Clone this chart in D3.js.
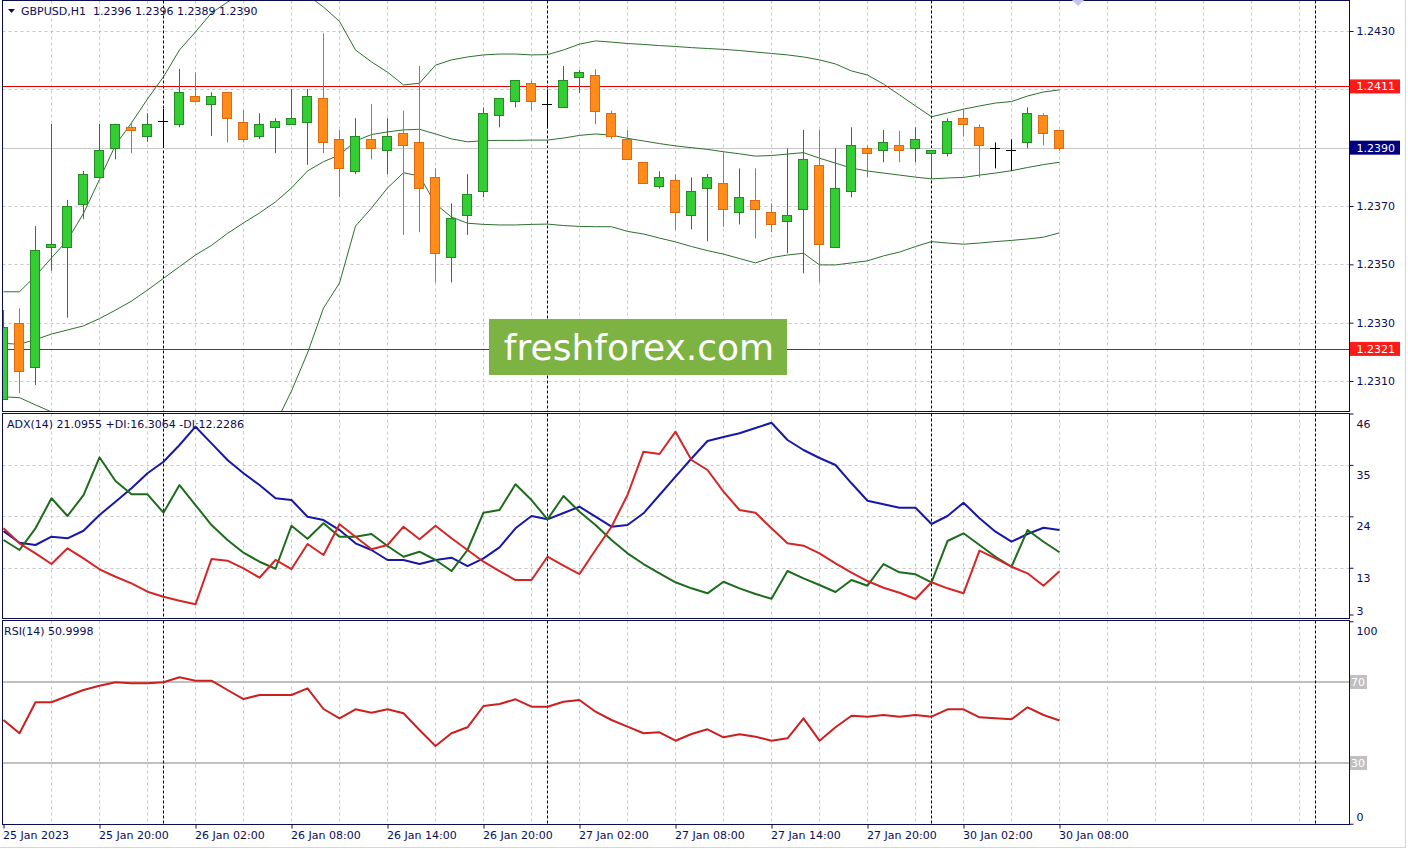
<!DOCTYPE html>
<html><head><meta charset="utf-8">
<script src="https://cdn.jsdelivr.net/npm/d3@7"></script>
<style>
html,body{margin:0;padding:0;background:#fff;}
svg{display:block;font-family:"DejaVu Sans",sans-serif;}
</style></head><body>
<svg id="c" width="1408" height="849"></svg>
<script>
// ---------- DATA ----------
const tickIndex = [0, 6, 12, 18, 24, 30, 36, 42, 48, 54, 60, 66];
const tickLabels = ["25 Jan 2023", "25 Jan 20:00", "26 Jan 02:00", "26 Jan 08:00", "26 Jan 14:00", "26 Jan 20:00",
  "27 Jan 02:00", "27 Jan 08:00", "27 Jan 14:00", "27 Jan 20:00", "30 Jan 02:00", "30 Jan 08:00"];
const separatorIndex = [10, 34, 58, 82];

const open = [
  1.23038, 1.23298, 1.23147, 1.23558, 1.23558, 1.23708, 1.23798, 1.23898, 1.23970, 1.23940,
  1.23990, 1.23980, 1.24078, 1.24049, 1.24090, 1.23989, 1.23940, 1.23970, 1.23980, 1.23989,
  1.24069, 1.23929, 1.23819, 1.23929, 1.23891, 1.23949, 1.23918, 1.23798, 1.23526, 1.23668,
  1.23750, 1.24011, 1.24059, 1.24121, 1.24050, 1.24038, 1.24141, 1.24148, 1.24018, 1.23929,
  1.23850, 1.23768, 1.23788, 1.23668, 1.23761, 1.23778, 1.23678, 1.23720, 1.23678, 1.23648,
  1.23689, 1.23840, 1.23558, 1.23750, 1.23898, 1.23891, 1.23908, 1.23898, 1.23881, 1.23881,
  1.24001, 1.23970, 1.23898, 1.23891, 1.23918, 1.24011, 1.23960];
const high = [
  1.23343, 1.23349, 1.23631, 1.23981, 1.23721, 1.23820, 1.23981, 1.23982, 1.23989, 1.24018,
  1.24033, 1.24170, 1.24158, 1.24090, 1.24091, 1.24029, 1.24018, 1.24001, 1.24101, 1.24101,
  1.24292, 1.23961, 1.24001, 1.24050, 1.24001, 1.24027, 1.24180, 1.23829, 1.23709, 1.23809,
  1.24038, 1.24070, 1.24132, 1.24130, 1.24100, 1.24180, 1.24166, 1.24169, 1.24027, 1.23960,
  1.23850, 1.23819, 1.23809, 1.23798, 1.23810, 1.23884, 1.23829, 1.23829, 1.23709, 1.23898,
  1.23961, 1.23961, 1.23898, 1.23970, 1.23908, 1.23961, 1.23958, 1.23970, 1.23891, 1.24001,
  1.24032, 1.23980, 1.23918, 1.23929, 1.24038, 1.24018, 1.23960];
const low = [
  1.23035, 1.23058, 1.23086, 1.23478, 1.23317, 1.23656, 1.23795, 1.23860, 1.23881, 1.23920,
  1.23906, 1.23970, 1.24055, 1.23940, 1.23918, 1.23918, 1.23929, 1.23881, 1.23979, 1.23841,
  1.23881, 1.23730, 1.23809, 1.23860, 1.23809, 1.23601, 1.23610, 1.23438, 1.23438, 1.23601,
  1.23730, 1.23970, 1.24038, 1.24027, 1.23966, 1.24038, 1.24088, 1.23980, 1.23929, 1.23860,
  1.23778, 1.23759, 1.23618, 1.23620, 1.23579, 1.23629, 1.23637, 1.23589, 1.23610, 1.23538,
  1.23469, 1.23438, 1.23558, 1.23730, 1.23798, 1.23850, 1.23850, 1.23850, 1.23798, 1.23870,
  1.23938, 1.23798, 1.23829, 1.23821, 1.23898, 1.23908, 1.23890];
const close = [
  1.23286, 1.23135, 1.23548, 1.23569, 1.23700, 1.23810, 1.23892, 1.23980, 1.23960, 1.23980,
  1.23990, 1.24090, 1.24059, 1.24078, 1.24001, 1.23929, 1.23980, 1.23990, 1.24001, 1.24078,
  1.23918, 1.23829, 1.23939, 1.23898, 1.23939, 1.23908, 1.23761, 1.23538, 1.23658, 1.23740,
  1.24018, 1.24069, 1.24131, 1.24059, 1.24050, 1.24131, 1.24158, 1.24027, 1.23939, 1.23860,
  1.23778, 1.23798, 1.23678, 1.23750, 1.23798, 1.23689, 1.23730, 1.23689, 1.23637, 1.23668,
  1.23860, 1.23569, 1.23761, 1.23908, 1.23881, 1.23918, 1.23891, 1.23929, 1.23891, 1.23990,
  1.23980, 1.23908, 1.23898, 1.23891, 1.24018, 1.23949, 1.23900];

const bbUpper = [
  1.23406, 1.23406, 1.23460, 1.23522, 1.23583, 1.23675, 1.23791, 1.23909, 1.23985, 1.24067,
  1.24143, 1.24235, 1.24297, 1.24362, 1.24399, 1.24434, 1.24461, 1.24475, 1.24458, 1.24423,
  1.24382, 1.24333, 1.24235, 1.24194, 1.24159, 1.24115, 1.24121, 1.24183, 1.24201, 1.24211,
  1.24218, 1.24221, 1.24221, 1.24218, 1.24219, 1.24235, 1.24255, 1.24266, 1.24262, 1.24257,
  1.24254, 1.24250, 1.24247, 1.24243, 1.24240, 1.24237, 1.24233, 1.24228, 1.24223, 1.24218,
  1.24211, 1.24201, 1.24187, 1.24163, 1.24149, 1.24118, 1.24081, 1.24043, 1.24006, 1.24019,
  1.24032, 1.24043, 1.24053, 1.24058, 1.24077, 1.24091, 1.24098];
const bbMiddle = [
  1.23229, 1.23226, 1.23242, 1.23261, 1.23275, 1.23289, 1.23314, 1.23343, 1.23374, 1.23412,
  1.23452, 1.23492, 1.23532, 1.23565, 1.23606, 1.23642, 1.23676, 1.23714, 1.23762, 1.23820,
  1.23852, 1.23875, 1.23923, 1.23945, 1.23954, 1.23961, 1.23963, 1.23947, 1.23930, 1.23920,
  1.23924, 1.23925, 1.23925, 1.23926, 1.23926, 1.23933, 1.23942, 1.23947, 1.23943, 1.23932,
  1.23923, 1.23914, 1.23906, 1.23900, 1.23894, 1.23886, 1.23879, 1.23871, 1.23873, 1.23878,
  1.23883, 1.23864, 1.23847, 1.23830, 1.23820, 1.23813, 1.23806, 1.23799, 1.23793, 1.23796,
  1.23798, 1.23806, 1.23813, 1.23821, 1.23832, 1.23842, 1.23850];
const bbLower = [
  1.23046, 1.23043, 1.23018, 1.22994, 1.22966, 1.22902, 1.22838, 1.22778, 1.22764, 1.22757,
  1.22761, 1.22750, 1.22767, 1.22781, 1.22812, 1.22850, 1.22891, 1.22953, 1.23066, 1.23196,
  1.23350, 1.23436, 1.23631, 1.23693, 1.23762, 1.23814, 1.23803, 1.23707, 1.23662, 1.23641,
  1.23637, 1.23635, 1.23635, 1.23637, 1.23638, 1.23633, 1.23630, 1.23629, 1.23629, 1.23613,
  1.23604, 1.23590, 1.23577, 1.23561, 1.23547, 1.23535, 1.23520, 1.23505, 1.23523, 1.23532,
  1.23538, 1.23498, 1.23498, 1.23505, 1.23512, 1.23529, 1.23542, 1.23561, 1.23578, 1.23573,
  1.23569, 1.23573, 1.23578, 1.23582, 1.23587, 1.23593, 1.23608];

const adx = [
  20.86, 18.36, 17.87, 19.64, 19.30, 20.92, 24.28, 27.13, 30.00, 33.21,
  35.69, 39.26, 43.18, 39.62, 36.05, 33.21, 30.70, 27.86, 27.49, 23.92,
  23.21, 21.07, 18.23, 16.80, 14.66, 14.66, 13.80, 14.66, 15.15, 13.37,
  15.02, 17.37, 21.44, 24.07, 23.36, 24.71, 26.06, 23.92, 21.78, 22.14,
  24.65, 28.56, 32.48, 36.37, 40.12, 40.97, 41.76, 42.90, 44.03, 40.33,
  38.19, 36.48, 34.98, 31.07, 27.34, 26.57, 25.85, 25.85, 22.36, 24.07,
  26.92, 23.58, 20.71, 18.57, 20.22, 21.57, 21.10];
const plusDI = [
  18.94, 16.80, 21.44, 27.86, 24.07, 28.56, 36.63, 31.56, 28.71, 28.71,
  24.78, 30.70, 26.42, 22.14, 18.94, 16.22, 14.29, 12.79, 21.99, 19.21,
  22.51, 19.64, 19.64, 20.22, 17.65, 15.36, 16.43, 14.66, 12.30, 16.80,
  24.78, 25.35, 30.85, 27.49, 23.36, 28.35, 24.99, 22.14, 18.94, 16.09,
  13.80, 11.81, 9.89, 8.60, 7.53, 10.01, 8.60, 7.38, 6.38, 12.30,
  10.74, 9.31, 7.81, 10.38, 9.16, 13.80, 12.02, 11.60, 9.89, 18.72,
  20.37, 17.87, 15.36, 13.22, 21.07, 18.57, 16.31];
const minusDI = [
  21.44, 18.23, 16.09, 13.80, 17.16, 15.02, 12.67, 11.08, 9.67, 7.87,
  6.80, 5.95, 5.18, 14.87, 14.51, 12.88, 10.87, 14.66, 12.73, 18.08,
  15.73, 22.29, 19.64, 16.95, 17.87, 21.78, 19.09, 21.99, 19.30, 16.80,
  14.29, 12.30, 10.38, 10.38, 15.36, 13.44, 11.66, 16.80, 21.78, 28.56,
  37.83, 37.33, 42.11, 36.05, 33.91, 29.27, 25.35, 24.78, 21.44, 18.23,
  17.72, 16.09, 13.95, 11.94, 10.16, 8.73, 7.66, 6.31, 9.89, 8.60,
  7.53, 16.65, 15.02, 13.22, 11.81, 9.16, 12.23];
const rsi = [
  51.23, 44.67, 59.98, 59.98, 63.09, 66.05, 68.17, 69.85, 69.36, 69.36,
  69.85, 72.32, 70.64, 70.64, 66.05, 61.60, 63.58, 63.58, 63.58, 66.89,
  56.67, 52.07, 56.52, 54.84, 56.52, 54.54, 46.30, 38.40, 44.67, 47.63,
  58.15, 59.14, 61.46, 57.80, 57.80, 60.27, 61.11, 55.33, 51.23, 47.93,
  44.67, 45.16, 41.01, 44.32, 46.64, 42.69, 44.17, 42.99, 41.01, 42.20,
  52.07, 41.01, 47.63, 53.36, 52.86, 53.70, 52.86, 53.70, 52.86, 56.52,
  56.52, 52.57, 52.07, 51.58, 57.51, 53.70, 51.00];

const priceTicks = [1.2310, 1.2330, 1.2350, 1.2370, 1.2390, 1.2410, 1.2430];
const hiddenPriceLabels = [1.2390, 1.2410];
const redLevels = [1.2411, 1.2321];
const bidPrice = 1.2390;
const adxTicks = [46, 35, 24, 13, 3];
const adxGrid = [35, 24, 13];
const rsiTicks = [100, 0];
const rsiLevels = [70, 30];
const headerMain = "GBPUSD,H1  1.2396 1.2396 1.2389 1.2390";
const headerAdx = "ADX(14) 21.0955 +DI:16.3064 -DI:12.2286";
const headerRsi = "RSI(14) 50.9998";
const watermark = "freshforex.com";

// ---------- DRAW ----------
const svg = d3.select("#c");
const NAVY = "#0c0c55";
const FONT = 11;
const X0 = 2.5, X1 = 1349.5;
const panes = [
  {id: "main", y0: 0.5, y1: 411.5},
  {id: "adx", y0: 413.5, y1: 618.5},
  {id: "rsi", y0: 620.5, y1: 824.5}
];
const x = d3.scaleLinear().domain([0, 82]).range([3.5, 1315.5]);
const yP = d3.scaleLinear().domain([1.2310, 1.2430]).range([381, 31]);
const yA = d3.scaleLinear().domain([3, 46]).range([614.5, 413.5]);
const yR = d3.scaleLinear().domain([0, 100]).range([823.75, 621.25]);

svg.append("rect").attr("width", 1408).attr("height", 849).attr("fill", "#fff");
const defs = svg.append("defs");
panes.forEach(p => {
  defs.append("clipPath").attr("id", "clip-" + p.id).append("rect")
    .attr("x", X0 + 0.5).attr("y", p.y0 + 0.5).attr("width", X1 - X0 - 1).attr("height", p.y1 - p.y0 - 1);
});

// window edge
svg.append("line").attr("x1", 1405.5).attr("x2", 1405.5).attr("y1", 0).attr("y2", 848).attr("stroke", "#d6d6d6");
svg.append("line").attr("x1", 0).attr("x2", 1406).attr("y1", 847.5).attr("y2", 847.5).attr("stroke", "#d6d6d6");

const gridIdx = d3.range(3, 82, 3);
const G = {};
panes.forEach(p => {
  const g = svg.append("g").attr("clip-path", `url(#clip-${p.id})`);
  G[p.id] = g;
  g.selectAll("line.vg").data(gridIdx).join("line").attr("class", "vg")
    .attr("x1", d => x(d)).attr("x2", d => x(d)).attr("y1", p.y0).attr("y2", p.y1)
    .attr("stroke", "#c9c9c9").attr("stroke-dasharray", "3,3");
});
// horizontal grids
G.main.selectAll("line.hg").data(priceTicks).join("line").attr("class", "hg")
  .attr("x1", X0).attr("x2", X1).attr("y1", d => Math.round(yP(d)) + 0.5).attr("y2", d => Math.round(yP(d)) + 0.5)
  .attr("stroke", "#c9c9c9").attr("stroke-dasharray", "3,3");
G.adx.selectAll("line.hg").data(adxGrid).join("line").attr("class", "hg")
  .attr("x1", X0).attr("x2", X1).attr("y1", d => Math.round(yA(d)) + 0.5).attr("y2", d => Math.round(yA(d)) + 0.5)
  .attr("stroke", "#c9c9c9").attr("stroke-dasharray", "3,3");
// RSI levels
G.rsi.selectAll("line.lv").data(rsiLevels).join("line").attr("class", "lv")
  .attr("x1", X0).attr("x2", X1).attr("y1", d => yR(d)).attr("y2", d => yR(d))
  .attr("stroke", "#c0c0c0").attr("stroke-width", 2);

// separators
panes.forEach(p => {
  G[p.id].selectAll("line.sep").data(separatorIndex).join("line").attr("class", "sep")
    .attr("x1", d => x(d)).attr("x2", d => x(d)).attr("y1", p.y0).attr("y2", p.y1)
    .attr("stroke", "#000").attr("stroke-dasharray", "3,2");
});

// bid line and red levels
G.main.append("line").attr("x1", X0).attr("x2", X1).attr("y1", Math.round(yP(bidPrice)) + 0.5).attr("y2", Math.round(yP(bidPrice)) + 0.5)
  .attr("stroke", "#c8c8c8");
G.main.selectAll("line.red").data(redLevels).join("line").attr("class", "red")
  .attr("x1", X0).attr("x2", X1).attr("y1", d => Math.round(yP(d)) + 0.5).attr("y2", d => Math.round(yP(d)) + 0.5)
  .attr("stroke", "#e60000").attr("stroke-width", 1.2);

// Bollinger bands
const bbLine = d3.line().x((d, i) => x(i)).y(d => yP(d));
[bbUpper, bbMiddle, bbLower].forEach(arr => {
  G.main.append("path").attr("d", bbLine(arr)).attr("fill", "none").attr("stroke", "#2f6f2f").attr("stroke-width", 1);
});

// candles
const candles = open.map((o, i) => ({i, o, h: high[i], l: low[i], c: close[i]}));
const cg = G.main.append("g");
candles.forEach(d => {
  const cx = x(d.i);
  const up = d.c > d.o, doji = d.c === d.o;
  const wick = doji ? "#000" : (up ? "#2a7a2a" : "#d2691e");
  const fill = up ? "#33cc33" : "#ff8c1a";
  const edge = up ? "#228b22" : "#dd6a10";
  cg.append("line").attr("x1", cx).attr("x2", cx).attr("y1", yP(d.h)).attr("y2", yP(d.l))
    .attr("stroke", wick).attr("stroke-width", 1);
  if (doji) {
    const yy = Math.round(yP(d.o)) + 0.5;
    cg.append("line").attr("x1", cx - 5.5).attr("x2", cx + 4.5).attr("y1", yy).attr("y2", yy)
      .attr("stroke", "#000").attr("stroke-width", 1);
  } else {
    const yt = Math.round(yP(Math.max(d.o, d.c))) + 0.5;
    const yb = Math.round(yP(Math.min(d.o, d.c))) + 0.5;
    cg.append("rect").attr("x", cx - 5).attr("y", yt).attr("width", 9).attr("height", Math.max(1, yb - yt))
      .attr("fill", fill).attr("stroke", edge).attr("stroke-width", 1);
  }
});

// ADX lines
const aLine = d3.line().x((d, i) => x(i)).y(d => yA(d));
[[adx, "#1717a8"], [plusDI, "#1d6b1d"], [minusDI, "#d42626"]].forEach(([arr, col]) => {
  G.adx.append("path").attr("d", aLine(arr)).attr("fill", "none").attr("stroke", col)
    .attr("stroke-width", 2).attr("stroke-linejoin", "round");
});
// RSI line
const rLine = d3.line().x((d, i) => x(i)).y(d => yR(d));
G.rsi.append("path").attr("d", rLine(rsi)).attr("fill", "none").attr("stroke", "#cc1f1f")
  .attr("stroke-width", 2).attr("stroke-linejoin", "round");

// pane borders
panes.forEach(p => {
  svg.append("rect").attr("x", X0).attr("y", p.y0).attr("width", X1 - X0).attr("height", p.y1 - p.y0)
    .attr("fill", "none").attr("stroke", NAVY).attr("stroke-width", 1);
});

// axes
function styleAxis(g) {
  g.select(".domain").remove();
  g.selectAll("line").attr("stroke", NAVY);
  g.selectAll("text").attr("fill", NAVY).attr("font-size", FONT).attr("font-family", "DejaVu Sans");
}
const fmt4 = d3.format(".4f");
const axP = svg.append("g").attr("transform", `translate(${X1},0)`)
  .call(d3.axisRight(yP).tickValues(priceTicks).tickSize(4)
    .tickFormat(d => hiddenPriceLabels.includes(d) ? "" : fmt4(d)));
styleAxis(axP);

const axA = svg.append("g").attr("transform", `translate(${X1},0)`)
  .call(d3.axisRight(yA).tickValues(adxTicks).tickSize(4).tickFormat(d3.format("d")));
styleAxis(axA);
axA.selectAll("text").attr("dy", null).attr("y", d => d === 3 ? -0.5 : 13.5);

const axR = svg.append("g").attr("transform", `translate(${X1},0)`)
  .call(d3.axisRight(yR).tickValues(rsiTicks).tickSize(4).tickFormat(d3.format("d")));
styleAxis(axR);
axR.selectAll("text").attr("dy", null).attr("y", d => d === 0 ? -3.5 : 13);

const axX = svg.append("g").attr("transform", `translate(0,${panes[2].y1})`)
  .call(d3.axisBottom(x).tickValues(tickIndex).tickSize(4).tickFormat((d, i) => tickLabels[i]));
styleAxis(axX);
axX.selectAll("text").attr("text-anchor", "start").attr("x", -1);

// price boxes
const boxes = [
  {p: redLevels[0], fill: "#ff1a1a", txt: fmt4(redLevels[0])},
  {p: bidPrice, fill: "#000080", txt: fmt4(bidPrice)},
  {p: redLevels[1], fill: "#ff1a1a", txt: fmt4(redLevels[1])}
];
boxes.forEach(b => {
  const yy = yP(b.p);
  svg.append("rect").attr("x", 1350).attr("y", yy - 7).attr("width", 50).attr("height", 14).attr("fill", b.fill);
  svg.append("text").attr("x", 1356.5).attr("y", yy + 4).attr("fill", "#fff").attr("font-size", FONT).text(b.txt);
});
rsiLevels.forEach(v => {
  const yy = yR(v);
  svg.append("rect").attr("x", 1350).attr("y", yy - 7).attr("width", 17).attr("height", 14).attr("fill", "#c0c0c0");
  svg.append("text").attr("x", 1351).attr("y", yy + 4).attr("fill", "#fff").attr("font-size", FONT).text(v);
});

// headers
svg.append("path").attr("d", "M8,9 L15,9 L11.5,13 Z").attr("fill", NAVY);
svg.append("text").attr("x", 21).attr("y", 15).attr("fill", NAVY).attr("font-size", FONT)
  .style("white-space", "pre").text(headerMain);
svg.append("text").attr("x", 7).attr("y", 428).attr("fill", NAVY).attr("font-size", FONT).text(headerAdx);
svg.append("text").attr("x", 4).attr("y", 635).attr("fill", NAVY).attr("font-size", FONT).text(headerRsi);

// shift marker
svg.append("path").attr("d", "M1072,0 L1084,0 L1078,6 Z").attr("fill", "#c4c4ee");

// watermark
svg.append("rect").attr("x", 489).attr("y", 319).attr("width", 298).attr("height", 56).attr("fill", "#7db343");
svg.append("text").attr("x", 639).attr("y", 360).attr("text-anchor", "middle").attr("fill", "#fff")
  .attr("font-size", 36).attr("font-family", "DejaVu Sans").text(watermark);
</script>
</body></html>
